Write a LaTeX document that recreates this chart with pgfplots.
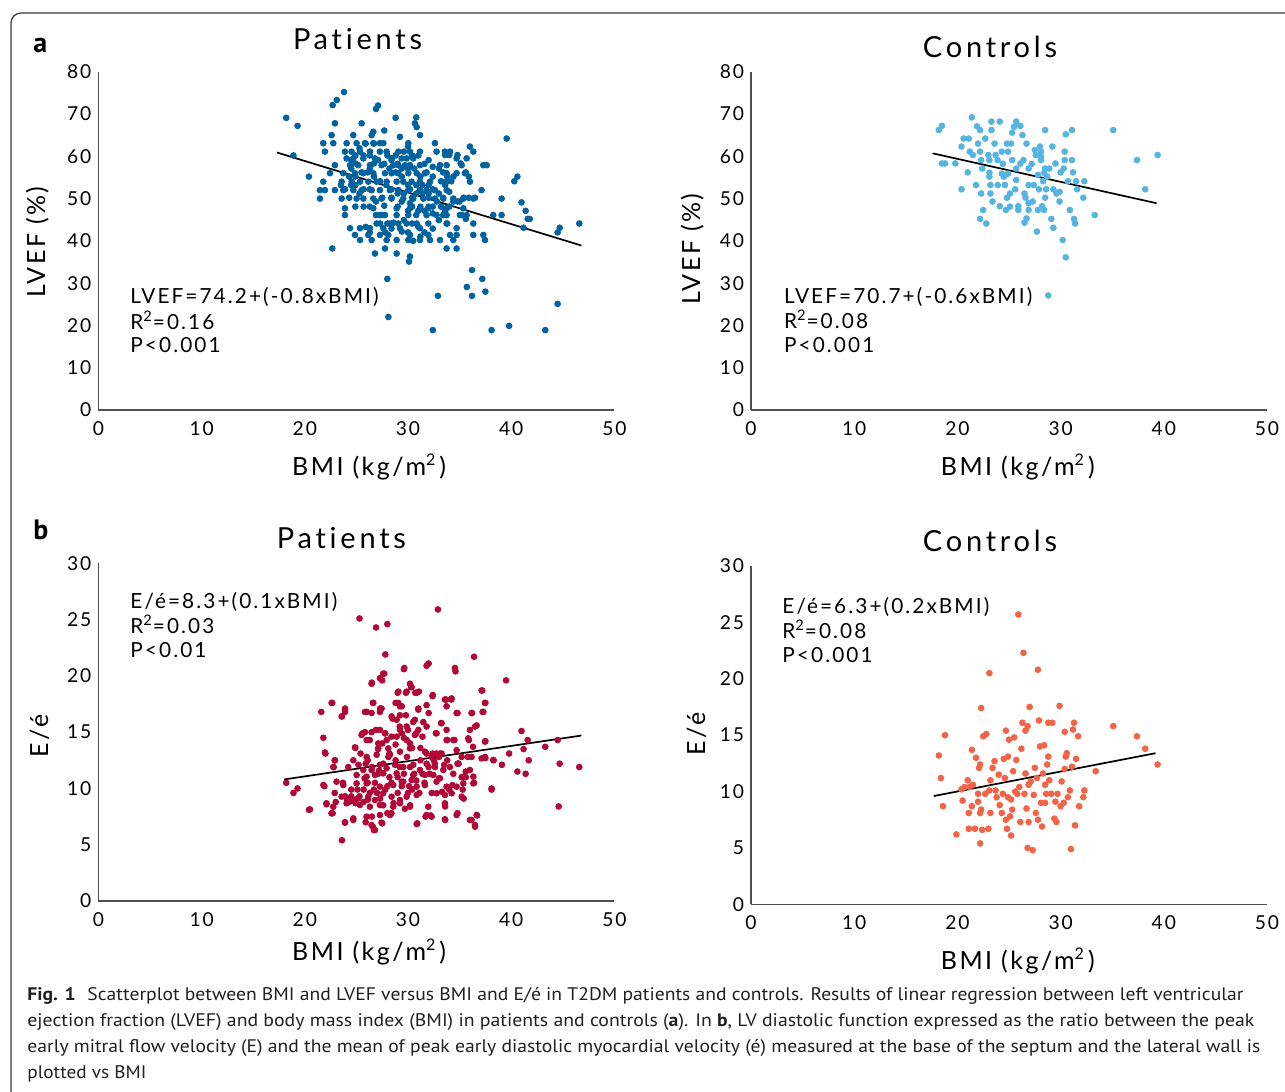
\documentclass[border=0pt]{standalone}
\usepackage{graphicx}
\usepackage{pgfplots}
\pgfplotsset{compat=1.18}
\usepackage{fontspec}
\setmainfont{Lato}
\newfontfamily\chartfont{Lato}[LetterSpace=10, Ligatures=NoCommon]
\newfontfamily\titlefont{Lato}[LetterSpace=13, Ligatures=NoCommon]
\newfontfamily\capfont{PT Sans}
\definecolor{pblue}{HTML}{00639F}
\definecolor{cblue}{HTML}{56B4E0}
\definecolor{pred}{HTML}{B00838}
\definecolor{cred}{HTML}{F26448}
\definecolor{axc}{HTML}{505050}
\definecolor{framec}{HTML}{3C3C3C}
\newcommand{\sqr}{\raisebox{0.75ex}{\fontsize{8}{9}\selectfont 2}}
\pgfplotsset{
  panel/.style={
    scale only axis, width=258pt, height=169.15pt,
    xmin=0, xmax=50, ymin=0,
    xtick={0,10,...,50},
    axis lines=left,
    axis line style={-, draw=axc, line width=0.55pt},
    tick style={draw=none}, major tick length=0pt,
    ticklabel style={font=\chartfont\fontsize{9.6}{11}\selectfont, text=black},
    xticklabel style={yshift=-2.2pt},
    /pgf/number format/assume math mode=true,
    clip=false,
  },
  dots/.style={only marks, mark=*, mark size=1.45pt, mark options={draw=#1, fill=#1}},
  fitline/.style={black, line width=0.85pt, no marks},
}
\begin{document}
\begin{tikzpicture}
\useasboundingbox (0pt,0pt) rectangle (642.5pt,-546pt);

% ---------- a: Patients LVEF ----------
\begin{axis}[panel, at={(49.2pt,-205pt)}, anchor=south west, ymax=80, ytick={0,10,...,80}]
\addplot[dots=pblue] coordinates {
(18.2,69.1)(19.3,67.2)(18.9,60.2)(20.4,55.2)(22.7,72.1)(23.1,73.3)(23.8,75.2)(26.9,71.2)(27.1,72.0)(28.0,31.0)(28.1,22.0)(28.8,69.1)(30.1,35.1)(30.8,69.2)(32.4,18.9)(32.9,27.0)(35.7,29.1)(36.2,33.1)(36.2,27.0)(37.2,31.0)(37.5,28.0)(38.1,18.9)(39.8,19.9)(40.3,54.1)(40.6,55.2)(41.0,49.1)(41.4,47.1)(41.6,45.2)(41.8,45.2)(41.2,43.1)(43.3,18.9)(44.5,25.1)(44.7,43.1)(44.5,42.0)(46.6,44.1)
(22.92,67.8)(25.51,67.8)(30.67,67.8)(30.84,66.9)(22.60,65.0)(24.70,65.0)(26.48,65.0)(26.64,65.8)(29.22,64.6)(31.16,65.0)(27.7,66.1)(39.56,64.2)
(21.79,63.1)(22.76,63.1)(24.05,63.1)(25.02,63.1)(25.83,63.1)(26.64,63.1)(27.28,63.1)(27.61,63.1)(30.03,63.1)(32.61,63.1)(36.00,62.3)
(21.95,61.1)(23.89,61.1)(24.54,61.1)(25.35,61.1)(26.31,61.1)(27.28,61.1)(27.93,61.1)(29.06,61.1)(30.19,61.1)(31.16,61.1)(32.77,61.1)(33.58,61.1)(34.07,61.1)(36.33,61.1)
(24.05,59.5)(24.70,59.5)(25.67,59.5)(26.80,59.5)(28.41,59.5)(29.38,59.5)(29.87,59.5)(30.51,59.5)(34.71,59.5)(35.68,59.5)
(22.92,57.9)(24.38,57.9)(25.18,57.9)(26.31,57.9)(27.44,57.9)(28.58,57.9)(29.06,57.9)(29.71,57.9)(30.19,57.9)(31.16,57.9)(33.10,57.9)(33.74,57.9)(35.20,57.9)(37.30,57.9)(37.62,57.9)
(22.44,56.0)(23.73,56.0)(24.86,56.0)(25.67,56.0)(26.64,56.0)(27.77,56.0)(28.41,56.0)(29.06,56.0)(30.03,56.0)(30.84,56.0)(31.64,56.0)(33.74,56.0)(34.71,56.0)(35.52,56.0)
(21.79,54.0)(23.57,54.0)(24.54,54.0)(25.35,54.0)(26.15,54.0)(26.96,54.0)(27.93,54.0)(28.90,54.0)(29.54,54.0)(30.35,54.0)(31.16,54.0)(32.13,54.0)(33.74,54.0)(36.00,54.0)
(21.47,52.0)(21.95,52.0)(22.92,52.0)(23.73,52.0)(24.70,52.0)(25.51,52.0)(26.48,52.0)(27.28,52.0)(28.25,52.0)(29.06,52.0)(30.03,52.0)(31.16,52.0)(31.80,52.0)(32.61,52.0)(33.74,52.0)(37.13,52.0)
(21.47,50.0)(23.57,50.0)(25.02,50.0)(25.67,50.0)(26.64,50.0)(27.44,50.0)(28.41,50.0)(29.54,50.0)(30.51,50.0)(31.48,50.0)(32.61,50.0)(33.42,50.0)(34.39,50.0)(35.36,50.0)(36.33,50.0)(39.07,50.0)
(23.89,47.7)(26.64,47.7)(28.90,47.7)(30.19,47.7)(31.16,47.7)(31.97,47.7)(33.74,47.7)(35.36,47.7)
(23.89,46.1)(27.28,46.1)(27.77,46.1)(28.90,46.1)(30.03,46.1)(31.80,46.1)(32.77,46.1)(33.74,46.1)(35.03,46.1)(35.68,46.1)(38.26,46.1)(39.07,46.1)
(26.96,44.1)(28.25,44.1)(29.06,44.1)(29.87,44.1)(30.84,44.1)(31.97,44.1)(33.74,44.1)(36.33,44.1)
(24.38,43.0)(25.35,43.0)(26.31,43.0)(27.61,43.0)(29.22,43.0)(31.16,43.0)(34.71,43.0)
(24.86,41.4)(26.15,41.4)(27.28,41.4)(28.09,41.4)(30.19,41.4)(31.97,41.4)(34.07,41.4)(34.71,41.4)(36.33,41.4)(37.30,41.4)
(25.35,40.2)(26.48,40.2)(27.93,40.2)(28.90,40.2)(30.03,40.2)(31.16,40.2)(32.13,40.2)(33.10,40.2)(34.39,40.2)(37.46,40.2)
(22.66,38.2)(27.77,38.2)(33.74,38.2)(34.71,38.2)(26.80,37.0)(28.90,37.0)(30.19,36.3)
(35.9,50.2)(36.5,50.2)(35.4,50.2)(35.6,56.2)(35.9,55.2)(35.1,58.3)(34.8,60.3)(34.0,60.3)(33.6,60.3)(34.2,54.1)(34.0,51.6)(34.8,49.3)(35.2,46.1)(35.6,45.2)(33.8,44.1)(33.4,46.1)(33.0,44.9)(32.4,46.5)(31.6,42.0)(31.2,41.0)(30.5,40.0)(30.0,42.0)(29.4,42.2)(28.6,44.3)(28.0,44.1)(27.3,44.1)(27.5,46.1)(26.9,46.1)(29.0,48.1)(30.8,46.1)(32.0,48.1)(31.2,48.1)(30.4,48.1)(29.4,49.3)(28.4,50.2)(27.5,50.2)(26.9,49.3)(26.3,52.2)(25.7,52.2)(25.3,51.2)(24.9,53.2)(24.5,53.2)(24.3,55.2)(24.9,55.2)(25.5,56.2)(26.1,56.2)(26.7,55.2)(27.3,54.1)(27.9,53.2)(28.4,52.2)(29.0,51.2)(29.6,51.2)(30.2,52.2)(30.8,53.2)(31.4,53.2)(32.0,53.2)(32.4,52.2)(33.0,51.2)(33.4,50.2)(32.8,49.3)(32.0,50.2)(31.4,51.2)(30.8,51.2)(30.4,50.2)(30.0,53.2)(29.4,55.2)(28.8,56.2)(28.2,57.1)(27.7,58.2)(27.1,59.1)(26.3,60.2)(25.7,60.2)(24.9,60.2)(24.5,59.1)(25.3,61.9)(25.9,63.0)(26.7,63.0)(28.0,60.2)(28.8,60.2)(29.6,61.1)(30.0,62.3)(30.4,60.2)(31.0,60.2)(31.6,58.2)(32.0,59.1)(30.6,57.1)(30.0,57.1)(29.4,57.1)(29.0,58.2)(28.4,59.1)(31.8,56.2)(32.4,55.2)(33.0,57.1)(33.4,56.2)(33.8,55.2)(34.4,55.2)(33.6,53.2)(33.2,54.1)(34.4,49.3)(35.0,49.3)(34.0,48.1)(33.6,47.1)(33.2,48.1)(32.4,48.1)(31.6,47.1)(31.0,47.1)(30.0,47.1)(29.6,44.9)(30.4,44.1)(31.0,43.3)(32.4,42.9)(28.4,42.9)(27.8,42.0)(26.3,42.0)(25.9,43.3)(25.7,48.1)(26.3,48.1)(24.9,48.1)(24.3,50.2)(23.9,52.2)(23.5,53.2)(24.5,57.1)(26.3,57.1)(26.7,58.3)(24.9,58.3)(30.2,48.9)(32.4,57.5)(31.2,55.2)(27.7,48.3)(32.0,51.2)
};
\addplot[fitline] coordinates {(17.3,60.9)(46.8,38.9)};
\end{axis}

% ---------- a: Controls LVEF ----------
\begin{axis}[panel, at={(375.5pt,-205pt)}, anchor=south west, ymax=80, ytick={0,10,...,80}]
\addplot[dots=cblue] coordinates {
(18.2,66.2)(18.5,67.2)(18.5,58.3)(18.8,58.3)(19.8,58.3)(20.4,52.2)(20.4,62.3)(20.6,64.2)(21.1,64.2)(21.0,56.2)(21.4,69.2)(21.2,61.1)(21.5,60.3)(21.8,53.2)(21.9,67.1)(22.2,66.2)(22.0,63.0)(22.2,61.1)(22.3,59.1)(22.4,57.1)(22.3,51.2)(22.5,47.3)(22.2,45.2)(22.8,44.1)(22.7,64.2)(23.0,60.3)(23.1,59.1)(23.1,56.1)(23.1,55.2)(23.2,53.2)(23.2,51.2)(23.4,49.3)(23.3,68.2)(23.3,66.2)(23.6,63.0)(23.7,60.3)(23.9,59.1)(24.1,68.2)(24.1,48.2)(24.3,61.1)(24.4,58.2)(24.5,55.2)(24.6,53.2)(24.7,47.3)(24.8,50.2)(24.8,63.0)(24.9,61.1)(25.1,48.1)(25.2,63.0)(25.3,59.1)(25.3,65.6)(25.5,67.0)(25.7,68.2)(25.7,57.1)(25.7,54.4)(25.6,52.2)(25.9,48.2)(25.9,47.3)(26.1,67.2)(26.1,58.3)(26.3,65.0)(26.4,59.1)(26.5,51.2)(26.6,50.2)(26.5,44.3)(26.7,45.3)(26.7,63.0)(26.9,47.3)(26.9,53.2)(26.9,57.1)(27.2,58.2)(27.3,49.3)(27.4,53.2)(27.6,60.3)(27.7,42.2)(27.8,47.3)(27.9,52.2)(28.0,62.3)(28.1,59.1)(28.1,61.1)(28.2,48.2)(28.3,54.1)(28.4,56.1)(28.5,66.2)(28.5,50.2)(28.4,47.3)(28.6,52.2)(28.7,55.2)(28.8,27.1)(28.9,57.1)(29.1,45.2)(29.2,62.3)(29.3,52.2)(29.3,43.1)(29.5,58.3)(29.6,51.2)(29.9,49.3)(30.0,56.2)(30.2,40.2)(30.3,57.1)(30.4,61.1)(30.4,59.1)(30.5,36.1)(30.5,65.2)(30.7,54.1)(30.9,47.3)(31.1,66.2)(31.1,59.1)(31.2,56.2)(31.3,45.2)(31.4,44.1)(31.5,54.1)(31.6,52.2)(32.2,50.2)(32.3,54.1)(33.3,46.1)(35.1,66.2)(37.4,59.1)(38.2,52.2)(39.4,60.3)
(24.3,55.9)(24.9,55.9)(27.5,61.5)(28.1,59.9)(25.1,51.2)(23.9,53.2)(26.9,48.9)(28.5,57.1)(29.9,51.6)(27.8,55.6)
};
\addplot[fitline] coordinates {(17.6,60.7)(39.3,48.9)};
\end{axis}

% ---------- b: Patients E/e' ----------
\begin{axis}[panel, at={(49.2pt,-450.5pt)}, anchor=south west, height=168.85pt, ymax=30, ytick={0,5,...,30}]
\addplot[dots=pred] coordinates {
(18.2,10.5)(18.9,9.6)(19.3,10.0)(20.4,8.1)(21.6,16.8)(21.8,14.5)(22.0,13.1)(21.9,10.2)(22.1,8.6)(22.6,17.6)(22.7,7.8)(22.6,7.8)(22.9,12.5)(22.8,11.9)(22.9,9.6)(23.0,8.8)(23.6,5.4)(23.6,16.4)(23.9,17.1)(23.9,16.8)(23.9,7.0)(23.9,9.3)(23.7,10.5)(24.1,9.0)(24.5,9.9)(24.7,7.2)(24.9,13.6)(24.9,8.7)(25.2,12.1)(25.3,25.1)(25.4,13.1)(25.6,14.9)(25.7,9.9)(25.8,10.9)(25.9,7.0)(26.0,16.8)(26.1,12.5)(26.1,9.0)(26.3,14.3)(26.5,19.4)(26.5,7.5)(26.6,6.6)(26.6,17.6)(26.7,6.3)(26.8,10.5)(26.9,15.2)(26.9,24.3)(27.0,9.6)(27.1,13.5)(27.2,11.6)(27.3,17.1)(27.5,19.6)(27.5,6.9)(27.6,8.5)(27.7,20.2)(27.8,14.9)(27.8,21.9)(28.0,10.2)(28.0,24.6)(28.0,7.8)(28.1,12.8)(28.2,11.0)(28.4,7.8)(28.5,16.2)(28.6,8.7)(28.8,13.9)(28.8,17.6)(29.0,18.5)(29.0,9.6)(29.2,15.5)(29.2,11.9)(29.4,17.3)(29.4,10.6)(29.6,14.5)(29.6,20.6)(29.7,8.2)(29.8,18.5)(29.8,16.5)(29.9,12.8)(30.0,15.2)(30.1,10.2)(30.2,8.5)(30.3,19.0)(30.4,13.6)(30.5,15.9)(30.6,11.3)(30.7,18.5)(30.8,14.9)(30.9,6.9)(31.0,17.1)(31.1,9.6)(31.2,12.5)(31.4,14.6)(31.6,10.5)(31.7,7.5)(31.8,17.4)(31.8,20.9)(32.0,21.1)(32.0,16.7)(32.1,11.3)(32.2,7.6)(32.3,9.6)(32.4,18.3)(32.5,12.5)(32.7,14.9)(32.9,25.9)(33.0,10.9)(33.1,13.1)(33.2,15.8)(33.3,9.7)(33.5,12.1)(33.6,7.2)(33.6,8.4)(33.7,17.9)(33.8,14.3)(34.0,9.9)(34.2,17.9)(34.3,10.3)(34.5,14.3)(34.6,20.4)(34.8,16.7)(34.8,7.8)(34.9,12.2)(35.3,9.9)(35.4,9.1)(35.6,11.0)(35.8,12.8)(35.9,14.3)(36.0,7.2)(36.2,16.7)(36.3,13.7)(36.4,21.7)(36.4,10.5)(36.5,6.6)(36.7,7.6)(36.5,15.5)(37.2,18.7)(37.3,16.8)(37.5,17.6)(37.5,12.7)(37.5,14.2)(38.1,9.9)(38.3,12.5)(39.1,12.1)(39.5,19.6)(39.8,13.1)(40.6,11.5)(41.0,15.1)(41.2,13.5)(41.4,11.3)(41.6,14.3)(41.7,12.5)(43.3,13.7)(44.5,14.3)(44.6,8.4)(44.7,12.2)(46.6,11.9)
(24.9,9.0)(25.3,9.3)(25.7,8.8)(26.3,9.6)(26.7,9.9)(27.3,9.1)(27.8,9.9)(28.4,10.5)(29.0,11.0)(29.6,11.3)(30.2,11.9)(30.8,10.7)(31.4,11.3)(32.0,11.9)(32.6,12.2)(30.4,9.9)(30.0,9.6)(29.4,10.2)(28.8,12.5)(28.2,13.1)(27.6,12.2)(27.1,11.3)(26.5,11.9)(25.9,12.2)(27.5,14.0)(28.4,14.6)(29.4,14.9)(30.2,14.0)(31.2,13.6)(31.8,13.1)(32.4,13.1)(33.0,12.8)(33.8,12.5)(34.8,12.2)(35.2,11.0)(35.6,11.5)(26.1,10.5)(25.1,9.9)(24.5,9.3)(24.3,8.8)
(29.64,20.7)(34.55,20.7)(27.60,20.2)(27.28,19.8)(26.47,19.3)(30.19,19.3)(30.35,19.0)(30.84,18.5)(29.06,18.6)(29.87,18.6)(31.06,18.6)(37.13,18.7)(32.38,18.2)(33.58,17.9)(34.23,18.0)
(22.66,17.6)(26.64,17.6)(27.44,17.1)(29.06,17.6)(29.22,17.3)(31.0,17.0)(33.74,17.3)(34.71,16.7)(36.16,16.7)(37.46,17.6)(37.23,16.8)(23.89,17.0)(23.57,16.4)(25.83,16.8)(26.47,16.7)(27.28,16.8)
(28.41,16.4)(29.22,16.5)(28.9,16.1)(30.67,16.1)(31.48,15.9)(29.87,15.5)(31.0,15.2)(31.8,15.5)(33.26,15.8)(32.77,14.9)(33.74,15.2)(36.0,15.2)(36.65,15.6)
(25.83,15.0)(25.5,14.75)(26.47,15.0)(27.28,15.2)(27.77,14.9)(29.22,15.2)(28.9,14.6)(29.87,14.3)(30.67,14.75)(27.93,14.3)(27.12,14.0)(25.99,14.3)(33.74,14.3)(34.39,14.3)(35.84,14.45)(37.46,14.16)
(24.86,13.65)(21.95,13.2)(22.92,12.5)(24.7,12.5)(25.99,12.8)(27.12,13.56)(28.09,13.56)(26.96,13.0)(28.25,13.0)(29.22,13.27)(30.19,13.56)(31.64,13.27)(32.29,12.8)(32.77,13.1)(33.26,13.1)(34.71,13.4)(35.2,12.8)(36.16,12.8)(37.13,12.67)(37.46,12.8)(38.26,12.53)
(22.76,11.9)(24.21,11.9)(25.67,11.64)(26.47,11.64)(27.28,12.1)(27.93,11.8)(28.74,12.1)(29.54,11.9)(30.51,12.1)(31.16,11.64)(31.8,12.2)(32.61,11.9)(33.42,11.64)(34.06,11.9)(34.87,12.2)(36.0,11.64)(36.33,11.05)(35.36,11.05)(34.39,11.3)(32.45,11.2)(33.1,10.9)(31.64,11.2)(30.51,11.2)(28.9,11.34)(27.6,11.34)(26.8,11.2)(25.99,11.05)(25.02,11.19)
(23.08,10.6)(23.73,10.3)(21.8,10.3)(25.02,10.45)(25.99,10.45)(27.28,10.16)(28.57,10.3)(29.54,10.6)(30.35,10.75)(30.84,10.16)(31.64,10.3)(32.77,10.6)(33.74,10.16)(34.71,10.16)(35.36,10.45)(38.1,10.0)(36.33,10.45)
(23.57,9.27)(24.37,8.97)(25.18,9.12)(26.15,9.27)(26.8,8.97)(27.6,9.57)(28.41,9.27)(29.22,8.97)(29.87,9.27)(30.84,9.42)(32.77,9.57)(33.58,9.42)(34.23,9.57)(35.2,9.27)(22.1,8.68)(22.76,8.38)(24.05,8.68)(25.34,8.53)(26.31,8.38)(27.28,8.53)(28.57,8.38)(29.22,8.68)(30.19,8.38)(31.96,8.38)(33.58,8.68)
(20.5,8.14)(22.6,7.79)(24.7,7.34)(25.99,7.49)(27.28,7.64)(28.25,7.64)(31.8,7.64)(32.29,7.49)(33.58,7.26)(34.71,7.64)(36.65,7.64)(36.16,7.2)
(23.89,6.96)(26.47,6.75)(27.44,6.96)(30.84,6.84)(26.8,6.31)(36.49,6.75)
};
\addplot[fitline] coordinates {(18.0,10.8)(46.8,14.7)};
\end{axis}

% ---------- b: Controls E/e' ----------
\begin{axis}[panel, at={(375.5pt,-452.15pt)}, anchor=south west, ymax=30, ytick={0,5,...,30}]
\addplot[dots=cred] coordinates {
(18.2,13.2)(18.4,11.2)(18.6,8.7)(18.8,15.0)(19.9,6.2)(20.4,10.2)(20.5,9.2)(20.7,10.4)(21.0,11.0)(21.1,6.7)(21.1,8.1)(21.2,10.4)(21.4,13.7)(21.4,8.7)(21.5,10.6)(21.7,6.7)(21.8,13.0)(22.0,9.8)(22.0,9.1)(22.1,12.1)(22.2,12.4)(22.2,5.4)(22.2,8.1)(22.3,17.4)(22.3,8.4)(22.4,6.6)(22.5,14.9)(22.7,9.8)(22.8,15.1)(23.0,6.7)(23.1,20.5)(23.1,10.1)(23.2,8.1)(23.2,11.0)(23.4,12.1)(23.6,12.7)(23.7,10.1)(23.8,9.5)(24.0,11.5)(24.1,8.8)(24.3,8.1)(24.4,9.8)(24.5,12.9)(24.6,11.2)(24.7,15.4)(24.7,7.5)(24.8,6.7)(24.9,9.5)(24.9,13.1)(25.0,14.6)(25.1,7.8)(25.2,6.1)(25.2,9.3)(25.3,8.4)(25.4,11.8)(25.5,14.8)(25.6,10.0)(25.7,12.8)(25.8,9.8)(25.9,25.7)(26.0,10.4)(26.1,7.3)(26.2,13.8)(26.3,16.1)(26.4,22.3)(26.5,9.8)(26.6,11.6)(26.6,15.4)(26.7,8.5)(26.8,5.0)(26.8,15.8)(26.9,10.6)(26.9,7.3)(27.0,17.5)(27.1,10.9)(27.3,4.8)(27.4,9.7)(27.5,12.1)(27.6,8.1)(27.7,11.2)(27.8,20.8)(27.8,7.5)(27.9,16.3)(28.0,14.0)(28.1,9.0)(28.2,6.9)(28.3,11.6)(28.4,14.1)(28.5,10.6)(28.5,9.0)(28.6,9.8)(28.7,12.4)(28.8,16.1)(28.8,13.1)(28.9,11.0)(29.1,9.8)(29.2,16.1)(29.4,7.6)(29.5,9.1)(29.6,7.3)(29.7,9.8)(29.9,17.6)(30.0,8.7)(30.1,10.9)(30.3,9.0)(30.4,12.0)(30.4,15.3)(30.5,13.1)(30.6,13.4)(30.7,9.5)(30.9,10.1)(31.0,4.9)(31.1,12.2)(31.2,15.5)(31.3,16.1)(31.4,7.0)(31.5,12.9)(31.7,14.9)(31.8,8.7)(32.2,9.5)(32.3,10.1)(33.4,11.8)(35.1,15.8)(37.4,14.9)(38.2,13.8)(39.4,12.4)
};
\addplot[fitline] coordinates {(17.7,9.6)(39.2,13.4)};
\end{axis}

\begin{scope}[x=0.5pt,y=-0.5pt]
% frame
\draw[framec, line width=0.6pt, rounded corners=5pt] (11,1120) -- (11,13) -- (1320,13);
% panel letters
\node[anchor=base west, inner sep=0, font=\capfont\bfseries\fontsize{14}{16}\selectfont] at (33,53) {a};
\node[anchor=base west, inner sep=0, font=\capfont\bfseries\fontsize{14}{16}\selectfont] at (33,539) {b};
% titles
\begin{scope}[every node/.style={inner sep=0, font=\titlefont\fontsize{14.5}{16}\selectfont}]
\node[anchor=base] at (357.6,49) {Patients};
\node[anchor=base] at (990,57) {Controls};
\node[anchor=base] at (341.4,548) {Patients};
\node[anchor=base] at (990,551) {Controls};
\end{scope}
% axis labels
\begin{scope}[every node/.style={inner sep=0, font=\chartfont\fontsize{12.5}{14}\selectfont}]
\node[anchor=base] at (369.2,475) {BMI (kg/m\sqr\,)};
\node[anchor=base] at (1017.8,475) {BMI (kg/m\sqr\,)};
\node[anchor=base] at (369.2,960) {BMI (kg/m\sqr\,)};
\node[anchor=base] at (1017.8,969) {BMI (kg/m\sqr\,)};
\node[anchor=base, rotate=90] at (45,242) {LVEF (\%)};
\node[anchor=base, rotate=90] at (700,249) {LVEF (\%)};
\node[anchor=base, rotate=90] at (48,736) {E/é};
\node[anchor=base, rotate=90] at (705,734) {E/é};
\end{scope}
% regression annotations
\begin{scope}[every node/.style={inner sep=0, anchor=base west, font=\chartfont\fontsize{10.4}{12}\selectfont}]
\node at (130,303) {LVEF=74.2+(-0.8xBMI)};
\node at (130,329) {R\textsuperscript{2}=0.16};
\node at (130,352) {P<0.001};
\node at (783.7,303) {LVEF=70.7+(-0.6xBMI)};
\node at (783.7,328) {R\textsuperscript{2}=0.08};
\node at (783.7,352) {P<0.001};
\node at (130,608) {E/é=8.3+(0.1xBMI)};
\node at (130,633) {R\textsuperscript{2}=0.03};
\node at (130,657) {P<0.01};
\node at (782,613) {E/é=6.3+(0.2xBMI)};
\node at (782,638) {R\textsuperscript{2}=0.08};
\node at (782,662) {P<0.001};
\end{scope}
% caption
\begin{scope}[every node/.style={inner sep=0, anchor=base west, text=black!88, font=\capfont\fontsize{9.1}{10}\selectfont}]
\node at (27,1000) {\resizebox{608pt}{\height}{\textbf{Fig. 1}\hspace{0.6em}Scatterplot between BMI and LVEF versus BMI and E/é in T2DM patients and controls. Results of linear regression between left ventricular}};
\node at (27,1026) {\resizebox{613.5pt}{\height}{ejection fraction (LVEF) and body mass index (BMI) in patients and controls (\textbf{a}). In \textbf{b}, LV diastolic function expressed as the ratio between the peak}};
\node at (27,1052) {\resizebox{616.5pt}{\height}{early mitral flow velocity (E) and the mean of peak early diastolic myocardial velocity (é) measured at the base of the septum and the lateral wall is}};
\node at (27,1078) {\resizebox{59.5pt}{\height}{plotted vs BMI}};
\end{scope}
\end{scope}
\end{tikzpicture}
\end{document}
